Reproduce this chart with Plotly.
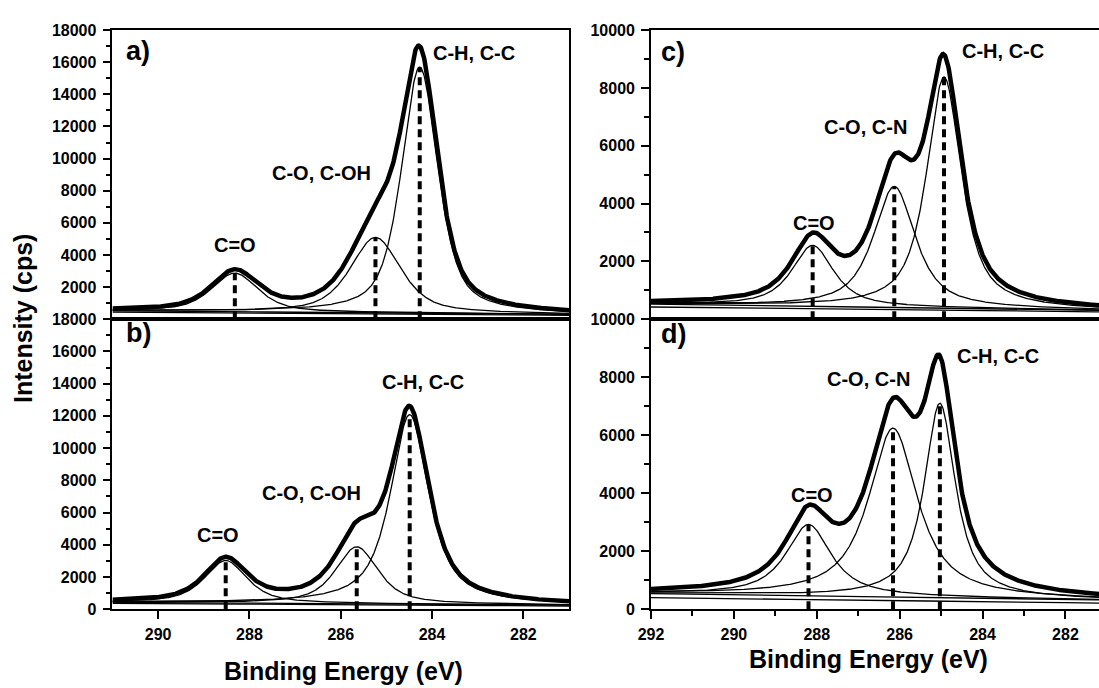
import numpy as np
import plotly.graph_objects as go

# ---- fitted C 1s components: centre (eV), height above background (cps),
# ---- FWHM (eV) and Lorentzian fraction of the pseudo-Voigt shape
component_names_ab = ["C=O", "C-O, C-OH", "C-H, C-C"]
component_names_cd = ["C=O", "C-O, C-N", "C-H, C-C"]

a_centers = [288.32, 285.24, 284.27]
a_heights = [2410, 4700, 15330]
a_fwhm = [1.20, 1.30, 0.94]
a_mix = [0.6, 0.6, 0.6]
a_background = [520, 300]          # cps at the high / low binding-energy end
a_linear_baseline = [440, 240]

b_centers = [288.52, 285.65, 284.49]
b_heights = [2640, 3540, 11760]
b_fwhm = [1.10, 1.10, 1.00]
b_mix = [0.7, 0.7, 0.8]
b_background = [430, 260]
b_linear_baseline = [370, 200]

c_centers = [288.10, 286.13, 284.93]
c_heights = [2110, 4190, 8000]
c_fwhm = [1.20, 1.20, 1.00]
c_mix = [0.8, 0.8, 0.8]
c_background = [520, 300]
c_linear_baseline = [420, 250]

d_centers = [288.20, 286.16, 285.03]
d_heights = [2460, 5820, 6700]
d_fwhm = [1.30, 1.40, 0.90]
d_mix = [0.9, 0.9, 0.9]
d_background = [540, 320]
d_linear_baseline = [400, 210]

left_energy_span = [291.0, 281.0]
right_energy_span = [292.0, 281.0]
left_ticks = [290, 288, 286, 284, 282]
right_ticks = [292, 290, 288, 286, 284, 282]
left_intensity_ticks = [0, 2000, 4000, 6000, 8000, 10000, 12000, 14000, 16000, 18000]
right_intensity_ticks = [0, 2000, 4000, 6000, 8000, 10000]

FONT = "Liberation Sans, Arial, sans-serif"


def pseudo_voigt(e, centre, height, fwhm, mix):
    hw = fwhm / 2.0
    u = ((e - centre) / hw) ** 2
    return height * (mix / (1.0 + u) + (1.0 - mix) * np.exp(-np.log(2.0) * u))


def line_between(e, span, ends):
    hi_e, lo_e = span
    return ends[1] + (ends[0] - ends[1]) * (e - lo_e) / (hi_e - lo_e)


fig = go.Figure()

panels = [
    dict(ax="", centers=a_centers, heights=a_heights, fwhm=a_fwhm, mix=a_mix,
         bg=a_background, lin=a_linear_baseline, span=left_energy_span,
         names=component_names_ab),
    dict(ax="2", centers=b_centers, heights=b_heights, fwhm=b_fwhm, mix=b_mix,
         bg=b_background, lin=b_linear_baseline, span=left_energy_span,
         names=component_names_ab),
    dict(ax="3", centers=c_centers, heights=c_heights, fwhm=c_fwhm, mix=c_mix,
         bg=c_background, lin=c_linear_baseline, span=right_energy_span,
         names=component_names_cd),
    dict(ax="4", centers=d_centers, heights=d_heights, fwhm=d_fwhm, mix=d_mix,
         bg=d_background, lin=d_linear_baseline, span=right_energy_span,
         names=component_names_cd),
]

thin = dict(color="black", width=1.3)

for p in panels:
    xa, ya = "x" + p["ax"], "y" + p["ax"]
    e = np.linspace(p["span"][0], p["span"][1], 800)
    base = line_between(e, p["span"], p["bg"])
    peaks = [pseudo_voigt(e, c, h, w, m)
             for c, h, w, m in zip(p["centers"], p["heights"], p["fwhm"], p["mix"])]
    # baselines
    fig.add_trace(go.Scatter(x=e, y=line_between(e, p["span"], p["lin"]), mode="lines",
                             xaxis=xa, yaxis=ya, line=thin, showlegend=False,
                             hoverinfo="skip"))
    fig.add_trace(go.Scatter(x=e, y=base, mode="lines", xaxis=xa, yaxis=ya,
                             line=thin, showlegend=False, hoverinfo="skip"))
    # individual components
    for pk in peaks:
        fig.add_trace(go.Scatter(x=e, y=base + pk, mode="lines", xaxis=xa, yaxis=ya,
                                 line=thin, showlegend=False, hoverinfo="skip"))
    # envelope
    fig.add_trace(go.Scatter(x=e, y=base + np.sum(peaks, axis=0), mode="lines",
                             xaxis=xa, yaxis=ya,
                             line=dict(color="black", width=4.5), showlegend=False,
                             hoverinfo="skip"))
    # dashed markers at component positions
    for c, h in zip(p["centers"], p["heights"]):
        top = line_between(np.array([c]), p["span"], p["bg"])[0] + h
        fig.add_trace(go.Scatter(x=[c, c], y=[0, top], mode="lines", xaxis=xa, yaxis=ya,
                                 line=dict(color="black", width=4, dash="8px,5px"),
                                 showlegend=False, hoverinfo="skip"))

# ---- layout geometry
x_left = [0.0916, 0.5120]
x_right = [0.5875, 1.0]
y_top = [0.5363, 0.9670]
y_bottom = [0.1039, 0.5363]

tickfont = dict(family=FONT, size=16, color="black", weight="bold")


def xaxis(domain, rng, anchor, ticks_shown, tickvals, minor):
    d = dict(domain=domain, range=rng, anchor=anchor, showgrid=False, zeroline=False,
             showline=True, linecolor="black", linewidth=1.8, mirror=True,
             tickfont=tickfont, tickcolor="black", tickwidth=1.5)
    if ticks_shown:
        d.update(ticks="outside", ticklen=8, tickmode="array", tickvals=tickvals,
                 ticktext=[str(t) for t in tickvals], showticklabels=True,
                 ticklabelstandoff=2)
        if minor:
            d["minor"] = dict(ticks="outside", ticklen=5, dtick=1, tick0=0,
                              tickcolor="black", tickwidth=1.5)
    else:
        d.update(ticks="", showticklabels=False)
    return d


def yaxis(domain, rng, anchor, tickvals, mirror):
    return dict(domain=domain, range=rng, anchor=anchor, showgrid=False, zeroline=False,
                showline=True, linecolor="black", linewidth=1.8, mirror=mirror,
                ticks="outside", ticklen=8, tickwidth=1.5, tickcolor="black",
                tickmode="array", tickvals=tickvals, ticktext=[str(t) for t in tickvals],
                tickfont=tickfont, ticklabelstandoff=3,
                minor=dict(ticks="outside", ticklen=5, dtick=1000, tick0=0,
                           tickcolor="black", tickwidth=1.5))


fig.update_layout(
    width=1099, height=688, margin=dict(l=0, r=0, t=0, b=0),
    paper_bgcolor="white", plot_bgcolor="white",
    xaxis=xaxis(x_left, [291, 281], "y", False, left_ticks, False),
    xaxis2=xaxis(x_left, [291, 281], "y2", True, left_ticks, False),
    xaxis3=xaxis(x_right, [292, 281.19], "y3", False, right_ticks, False),
    xaxis4=xaxis(x_right, [292, 281.19], "y4", True, right_ticks, True),
    yaxis=yaxis(y_top, [0, 18000], "x", left_intensity_ticks[1:], True),
    yaxis2=yaxis(y_bottom, [0, 18000], "x2", left_intensity_ticks, True),
    yaxis3=yaxis(y_top, [0, 10000], "x3", right_intensity_ticks[1:], False),
    yaxis4=yaxis(y_bottom, [0, 10000], "x4", right_intensity_ticks, False),
)

# ---- peak labels (data coordinates)
label_x = {"": [288.32, 286.42, 283.08], "2": [288.68, 286.65, 284.19],
           "3": [288.07, 286.82, 283.50], "4": [288.12, 286.76, 283.62]}
label_y = {"": [4590, 9110, 16590], "2": [4600, 7200, 14070],
           "3": [3340, 6660, 9280], "4": [3950, 7940, 8730]}
annotations = []
for p in panels:
    for name, lx, ly in zip(p["names"], label_x[p["ax"]], label_y[p["ax"]]):
        annotations.append(dict(x=lx, y=ly, xref="x" + p["ax"], yref="y" + p["ax"],
                                text=name, showarrow=False, xanchor="center",
                                yanchor="middle",
                                font=dict(family=FONT, size=20, color="black",
                                          weight="bold")))

# ---- panel letters
for letter, px, py in [("a)", 112, 44), ("b)", 112, 333), ("c)", 654, 45), ("d)", 654, 334)]:
    annotations.append(dict(x=px / 1099, y=1 - py / 688, xref="paper", yref="paper",
                            text=letter, showarrow=False, xanchor="left", yanchor="middle",
                            font=dict(family=FONT, size=27, color="black", weight="bold")))

# ---- axis titles
title_font = dict(family=FONT, size=25, color="black", weight="bold")
annotations.append(dict(x=10 / 1099, y=1 - 318 / 688, xref="paper", yref="paper",
                        text="Intensity (cps)", textangle=-90, showarrow=False,
                        xanchor="center", yanchor="middle", font=title_font))
annotations.append(dict(x=334 / 1099, y=1 - 680 / 688, xref="paper", yref="paper",
                        text="Binding Energy (eV)", showarrow=False,
                        xanchor="center", yanchor="middle", font=title_font))
annotations.append(dict(x=866 / 1099, y=1 - 668 / 688, xref="paper", yref="paper",
                        text="Binding Energy (eV)", showarrow=False,
                        xanchor="center", yanchor="middle", font=title_font))

fig.update_layout(annotations=annotations)

fig.write_html("out.html")
